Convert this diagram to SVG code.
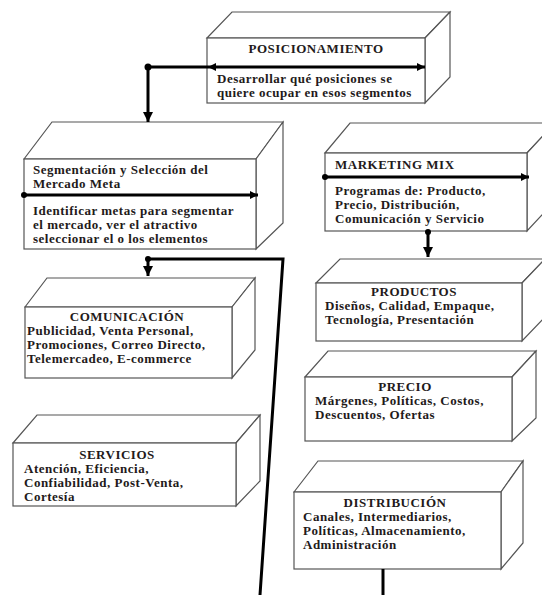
<svg xmlns="http://www.w3.org/2000/svg" width="542" height="595" viewBox="0 0 542 595">
<style>
.box path, .box rect { fill: #fff; stroke: #555; stroke-width: 1.2; }
text { font-family: "Liberation Serif", "Times New Roman", serif; font-weight: bold; font-size: 13px; letter-spacing: 0.5px; fill: #231a1a; }
.c { text-anchor: middle; }
.ln { fill: none; stroke: #000; stroke-width: 3; }
.dot { fill: #000; }
</style>
<defs>
<marker id="ah" markerUnits="userSpaceOnUse" markerWidth="12" markerHeight="12" refX="10" refY="5" orient="auto">
<path d="M0,0 L10,5 L0,10 Z" fill="#000"/>
</marker>
<marker id="ahs" markerUnits="userSpaceOnUse" markerWidth="10" markerHeight="10" refX="8" refY="4" orient="auto">
<path d="M0,0 L8,4 L0,8 Z" fill="#000"/>
</marker>
</defs>
<rect width="542" height="595" fill="#fff"/>

<g id="posicionamiento" class="box">
<path d="M207,38 L232,12 L450,12 L425,38 Z"/>
<path d="M425,38 L450,12 L450,77 L425,103 Z"/>
<rect x="207" y="38" width="218" height="65"/>
<text class="c" x="316" y="53">POSICIONAMIENTO</text>
<text x="217" y="83">Desarrollar qué posiciones se</text>
<text x="217" y="97">quiere ocupar en esos segmentos</text>
</g>

<g id="segmentacion" class="box">
<path d="M24,159 L52,122 L283,122 L256,159 Z"/>
<path d="M256,159 L283,122 L283,223 L256,249 Z"/>
<rect x="24" y="159" width="232" height="90"/>
<text x="33" y="174">Segmentación y Selección del</text>
<text x="33" y="188">Mercado Meta</text>
<text x="33" y="215">Identificar metas para segmentar</text>
<text x="33" y="229">el mercado, ver el atractivo</text>
<text x="33" y="243">seleccionar el o los elementos</text>
</g>

<g id="marketing-mix" class="box">
<path d="M325,153 L350,123 L555,123 L527,153 Z"/>
<path d="M527,153 L555,123 L555,201 L527,231 Z"/>
<rect x="325" y="153" width="202" height="78"/>
<text x="335" y="169">MARKETING MIX</text>
<text x="335" y="195">Programas de: Producto,</text>
<text x="335" y="209">Precio, Distribución,</text>
<text x="335" y="223">Comunicación y Servicio</text>
</g>

<g id="comunicacion" class="box">
<path d="M25,307 L47,278 L255,278 L232,307 Z"/>
<path d="M232,307 L255,278 L255,350 L232,378 Z"/>
<rect x="25" y="307" width="207" height="71"/>
<text class="c" x="127" y="321">COMUNICACIÓN</text>
<text x="27" y="335">Publicidad, Venta Personal,</text>
<text x="27" y="349">Promociones, Correo Directo,</text>
<text x="27" y="363">Telemercadeo, E-commerce</text>
</g>

<g id="servicios" class="box">
<path d="M13,443 L37,415 L260,415 L236,443 Z"/>
<path d="M236,443 L260,415 L260,481 L236,506 Z"/>
<rect x="13" y="443" width="223" height="63"/>
<text class="c" x="117" y="459">SERVICIOS</text>
<text x="24" y="473">Atención, Eficiencia,</text>
<text x="24" y="487">Confiabilidad, Post-Venta,</text>
<text x="24" y="501">Cortesía</text>
</g>

<g id="productos" class="box">
<path d="M316,283 L340,259 L545,259 L522,283 Z"/>
<path d="M522,283 L545,259 L545,317 L522,341 Z"/>
<rect x="316" y="283" width="206" height="58"/>
<text class="c" x="414" y="296">PRODUCTOS</text>
<text x="325" y="310">Diseños, Calidad, Empaque,</text>
<text x="325" y="324">Tecnología, Presentación</text>
</g>

<g id="precio" class="box">
<path d="M305,377 L328,351 L536,351 L512,377 Z"/>
<path d="M512,377 L536,351 L536,418 L512,441 Z"/>
<rect x="305" y="377" width="207" height="64"/>
<text class="c" x="405" y="391">PRECIO</text>
<text x="315" y="405">Márgenes, Políticas, Costos,</text>
<text x="315" y="419">Descuentos, Ofertas</text>
</g>

<g id="distribucion" class="box">
<path d="M294,492 L318,461 L523,461 L501,492 Z"/>
<path d="M501,492 L523,461 L523,543 L501,569 Z"/>
<rect x="294" y="492" width="207" height="77"/>
<text class="c" x="395" y="507">DISTRIBUCIÓN</text>
<text x="303" y="521">Canales, Intermediarios,</text>
<text x="303" y="535">Políticas, Almacenamiento,</text>
<text x="303" y="549">Administración</text>
</g>

<g id="connectors">
<path class="ln" d="M148,67 H425" marker-end="url(#ahs)"/>
<path d="M216,63 L208,67 L216,71 Z" fill="#000"/>
<path class="ln" d="M148,67 V122" marker-end="url(#ah)"/>
<circle class="dot" cx="148" cy="67" r="3.5"/>
<path class="ln" d="M24,195 H258" marker-end="url(#ahs)"/>
<circle class="dot" cx="24" cy="195" r="3"/>
<path class="ln" d="M148,259 V276" marker-end="url(#ah)"/>
<circle class="dot" cx="148" cy="259" r="3"/>
<path class="ln" d="M148,259 H283 L260,595"/>
<path class="ln" d="M325,177 H529" marker-end="url(#ahs)"/>
<circle class="dot" cx="325" cy="177" r="3"/>
<path class="ln" d="M428,232 V257" marker-end="url(#ah)"/>
<circle class="dot" cx="428" cy="232" r="3"/>
<path class="ln" d="M383,569 V595"/>
</g>
</svg>
